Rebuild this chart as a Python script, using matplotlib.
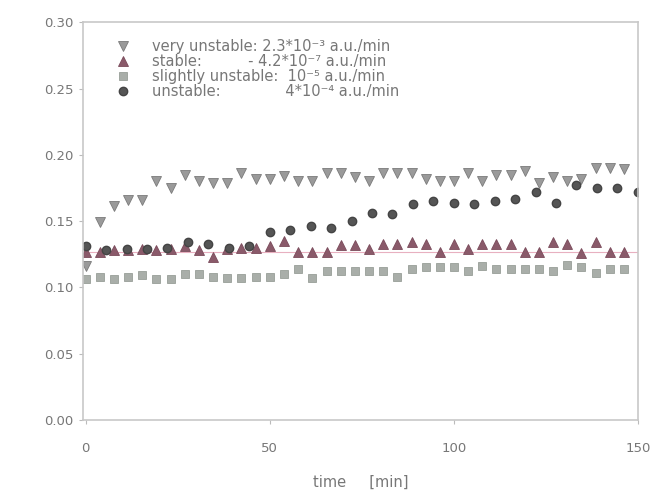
import matplotlib.pyplot as plt

# sample times [min], common to three series
time = [0, 3.8, 7.7, 11.5, 15.4, 19.2, 23.1, 26.9, 30.8, 34.6, 38.5, 42.3, 46.2,
        50, 53.8, 57.7, 61.5, 65.4, 69.2, 73.1, 76.9, 80.8, 84.6, 88.5, 92.3, 96.2,
        100, 103.8, 107.7, 111.5, 115.4, 119.2, 123.1, 126.9, 130.8, 134.6, 138.5,
        142.3, 146.2]

very_unstable = [0.116, 0.149, 0.161, 0.166, 0.166, 0.180, 0.175, 0.185, 0.180,
                 0.179, 0.179, 0.186, 0.182, 0.182, 0.184, 0.180, 0.180, 0.186,
                 0.186, 0.183, 0.180, 0.186, 0.186, 0.186, 0.182, 0.180, 0.180,
                 0.186, 0.180, 0.185, 0.185, 0.188, 0.179, 0.183, 0.180, 0.182,
                 0.190, 0.190, 0.189]

stable = [0.127, 0.127, 0.128, 0.128, 0.129, 0.128, 0.129, 0.131, 0.128, 0.123,
          0.129, 0.130, 0.130, 0.131, 0.135, 0.127, 0.127, 0.127, 0.132, 0.132,
          0.129, 0.133, 0.133, 0.134, 0.133, 0.127, 0.133, 0.129, 0.133, 0.133,
          0.133, 0.127, 0.127, 0.134, 0.133, 0.126, 0.134, 0.127, 0.127]

slightly_unstable = [0.106, 0.108, 0.106, 0.108, 0.109, 0.106, 0.106, 0.110, 0.110,
                     0.108, 0.107, 0.107, 0.108, 0.108, 0.110, 0.114, 0.107, 0.112,
                     0.112, 0.112, 0.112, 0.112, 0.108, 0.114, 0.115, 0.115, 0.115,
                     0.112, 0.116, 0.114, 0.114, 0.114, 0.114, 0.112, 0.117, 0.115,
                     0.111, 0.114, 0.114]

# unstable series was sampled less often
time_unstable = [0, 5.6, 11.1, 16.7, 22.2, 27.8, 33.3, 38.9, 44.4, 50, 55.6, 61.1,
                 66.7, 72.2, 77.8, 83.3, 88.9, 94.4, 100, 105.6, 111.1, 116.7,
                 122.2, 127.8, 133.3, 138.9, 144.4, 150]
unstable = [0.131, 0.128, 0.129, 0.129, 0.130, 0.134, 0.133, 0.130, 0.131, 0.142,
            0.143, 0.146, 0.145, 0.150, 0.156, 0.155, 0.163, 0.165, 0.164, 0.163,
            0.165, 0.167, 0.172, 0.164, 0.177, 0.175, 0.175, 0.172]

labels = [
    "very unstable: 2.3*10\u207b\u00b3 a.u./min",
    "stable:          - 4.2*10\u207b\u2077 a.u./min",
    "slightly unstable:  10\u207b\u2075 a.u./min",
    "unstable:              4*10\u207b\u2074 a.u./min",
]

fig = plt.figure(figsize=(6.68, 4.94), dpi=100)
ax = fig.add_axes([0.124, 0.15, 0.831, 0.805])

ax.plot(time, very_unstable, "v", ms=6.5, color="#9a9a9a", mec="#7a7a7a", mew=0.6, label=labels[0])
ax.plot(time, stable, "^", ms=6.5, color="#8a5a6a", mec="#7a4a5a", mew=0.6, label=labels[1])
ax.plot(time, slightly_unstable, "s", ms=5.5, color="#a9aea9", mec="#989e98", mew=0.6, label=labels[2])
ax.plot(time_unstable, unstable, "o", ms=6, color="#555555", mec="#444444", label=labels[3])

# faint fit line under the stable series
ax.plot([0, 150], [0.1265, 0.1265], color="#e8b0c0", lw=0.8, zorder=0)

ax.set_xlim(-0.8, 150)
ax.set_ylim(0, 0.30)
ax.set_xticks([0, 50, 100, 150])
ax.set_yticks([0, 0.05, 0.10, 0.15, 0.20, 0.25, 0.30])
ax.set_yticklabels(["0.00", "0.05", "0.10", "0.15", "0.20", "0.25", "0.30"])
ax.tick_params(colors="#bbbbbb", labelcolor="#777777", labelsize=9.5, length=3)
ax.tick_params(axis="x", pad=13)
for spine in ax.spines.values():
    spine.set_color("#c8c8c8")
    spine.set_linewidth(1.2)

ax.set_xlabel("time     [min]", color="#777777", fontsize=10.5, labelpad=14)

leg = ax.legend(loc="upper left", frameon=False, fontsize=10.5, handletextpad=1.0,
                borderaxespad=0.6, labelspacing=0.0, bbox_to_anchor=(0.02, 0.995))
for text in leg.get_texts():
    text.set_color("#777777")

fig.savefig("out.png", dpi=100)
